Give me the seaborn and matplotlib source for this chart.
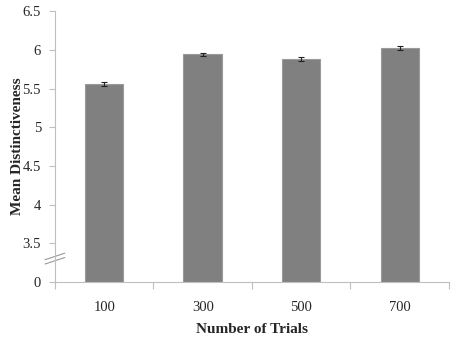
"""Bar chart: mean distinctiveness by number of trials (broken y axis)."""

import matplotlib

matplotlib.use("Agg")
import matplotlib.pyplot as plt
import numpy as np
import pandas as pd
import seaborn as sns

trials = ["100", "300", "500", "700"]
mean_distinctiveness = [5.56, 5.94, 5.88, 6.02]
sem = [0.025, 0.025, 0.025, 0.025]
y_ticks = [0, 3.5, 4, 4.5, 5, 5.5, 6, 6.5]
y_tick_labels = ["0", "3.5", "4", "4.5", "5", "5.5", "6", "6.5"]

df = pd.DataFrame({"trials": trials, "mean": mean_distinctiveness})

AXIS_GREY = "#bfbfbf"
BREAK = 3.5


def _forward(v):
    v = np.asarray(v, dtype=float)
    return np.where(v >= BREAK, v, 3.0 + v * 0.5 / BREAK)


def _inverse(y):
    y = np.asarray(y, dtype=float)
    return np.where(y >= BREAK, y, (y - 3.0) * BREAK / 0.5)


sns.set_style("white")
plt.rcParams["font.family"] = ["Liberation Serif", "DejaVu Serif"]

fig, ax = plt.subplots(figsize=(4.54, 3.38), dpi=100)
fig.subplots_adjust(left=0.121, right=0.989, bottom=0.166, top=0.967)

sns.barplot(
    data=df,
    x="trials",
    y="mean",
    color="#808080",
    saturation=1,
    width=0.39,
    edgecolor="#9a9a9a",
    linewidth=0.8,
    errorbar=None,
    ax=ax,
)
ax.errorbar(
    np.arange(len(trials)),
    mean_distinctiveness,
    yerr=sem,
    fmt="none",
    ecolor="#222222",
    elinewidth=0.8,
    capsize=2,
    capthick=0.8,
)

ax.set_yscale("function", functions=(_forward, _inverse))
ax.set_ylim(0, 6.5)
ax.set_yticks(y_ticks)
ax.set_yticklabels(y_tick_labels)
ax.set_xlim(-0.5, len(trials) - 0.5)
ax.set_xticks(np.arange(len(trials) + 1) - 0.5, minor=True)

ax.tick_params(axis="x", which="major", length=0, labelsize=10.5, pad=14)
ax.tick_params(axis="x", which="minor", length=5, color=AXIS_GREY, width=0.8)
ax.tick_params(axis="y", length=4, color=AXIS_GREY, width=0.8, labelsize=10.5, pad=6)
ax.yaxis.set_ticks_position("left")
ax.xaxis.set_ticks_position("bottom")

for side in ("top", "right"):
    ax.spines[side].set_visible(False)
for side in ("left", "bottom"):
    ax.spines[side].set_color(AXIS_GREY)
    ax.spines[side].set_linewidth(0.8)

ax.set_xlabel("Number of Trials", fontsize=11, fontweight="bold", labelpad=6)
ax.set_ylabel("Mean Distinctiveness", fontsize=11, fontweight="bold")
ax.yaxis.set_label_coords(-0.079, 0.5)

# axis break marks
for dy in (0.0, 0.016):
    ax.plot([-0.025, 0.025], [0.066 + dy, 0.09 + dy], transform=ax.transAxes,
            color="#999999", linewidth=0.8, clip_on=False)

fig.savefig("out.png", dpi=100)
plt.close(fig)
